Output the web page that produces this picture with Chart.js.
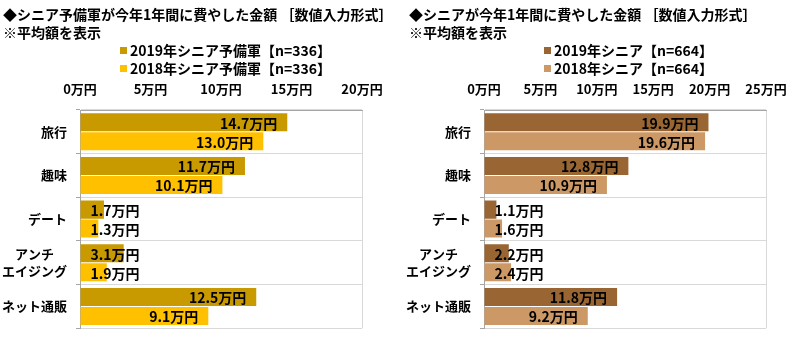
<!DOCTYPE html>
<html>
<head>
<meta charset="utf-8">
<script src="https://cdn.jsdelivr.net/npm/chart.js@4.4.1/dist/chart.umd.min.js"></script>
<style>
  body { margin: 0; background: #fff; font-family: "Noto Sans CJK JP", sans-serif; }
  #wrap { position: relative; width: 800px; height: 346px; overflow: hidden; }
  .box { position: absolute; top: 0; width: 400px; height: 346px; }
  .title { position: absolute; font-weight: bold; font-size: 14px; line-height: 18px; white-space: nowrap; color: #000; z-index: 2; }
  .leg { position: absolute; font-weight: bold; font-size: 14px; line-height: 18px; white-space: nowrap; z-index: 2; }
  .leg span.sw { display: inline-block; width: 7px; height: 7px; margin-right: 3px; vertical-align: 2px; }
</style>
</head>
<body>
<div id="wrap">
  <div class="box" style="left:0"><canvas id="chartA"></canvas></div>
  <div class="box" style="left:400px"><canvas id="chartB"></canvas></div>
</div>
<script>
// categories (アンチ has a trailing full-width space so the two lines look centred)
var categories = ['旅行', '趣味', 'デート', ['アンチ　', 'エイジング'], 'ネット通販'];

// left chart: シニア予備軍 (万円)
var yobi2019 = [14.7, 11.7, 1.7, 3.1, 12.5];
var yobi2018 = [13.0, 10.1, 1.3, 1.9, 9.1];
var yobiTicks = [0, 5, 10, 15, 20];

// right chart: シニア (万円)
var senior2019 = [19.9, 12.8, 1.1, 2.2, 11.8];
var senior2018 = [19.6, 10.9, 1.6, 2.4, 9.2];
var seniorTicks = [0, 5, 10, 15, 20, 25];

var FONT = '"Noto Sans CJK JP", sans-serif';
var wrap = document.getElementById('wrap');

function addText(cls, x, y, html) {
    var d = document.createElement('div');
    d.className = cls;
    d.style.left = x + 'px';
    d.style.top = y + 'px';
    d.innerHTML = html;
    wrap.appendChild(d);
}

// value labels: inside end, but never pushed left of the axis
var valueLabels = {
    id: 'valueLabels',
    afterDatasetsDraw: function (chart) {
        var ctx = chart.ctx;
        ctx.save();
        ctx.font = 'bold 14px ' + FONT;
        ctx.fillStyle = '#000';
        ctx.textAlign = 'right';
        ctx.textBaseline = 'middle';
        chart.data.datasets.forEach(function (ds, i) {
            var meta = chart.getDatasetMeta(i);
            meta.data.forEach(function (bar, j) {
                var txt = ds.data[j].toFixed(1) + '万円';
                var w = ctx.measureText(txt).width;
                var xr = Math.max(bar.x - 10, bar.base + 10 + w);
                ctx.fillText(txt, xr, bar.y + 1);
            });
        });
        ctx.restore();
    }
};

function makeChart(id, labels, d2019, d2018, ticks, colors, yWidth) {
    var max = ticks[ticks.length - 1];
    var ctx = document.getElementById(id).getContext('2d');
    return new Chart(ctx, {
        type: 'bar',
        data: {
            labels: categories,
            datasets: [{
                label: labels[0],
                data: d2019,
                backgroundColor: colors[0],
                categoryPercentage: 0.87,
                barPercentage: 0.95
            }, {
                label: labels[1],
                data: d2018,
                backgroundColor: colors[1],
                categoryPercentage: 0.87,
                barPercentage: 0.95
            }]
        },
        options: {
            indexAxis: 'y',
            responsive: false,
            animation: false,
            layout: { padding: { top: 80, left: 0, right: 400 - yWidth - 282, bottom: 11 } },
            plugins: { legend: { display: false }, tooltip: { enabled: false } },
            scales: {
                x: {
                    position: 'top',
                    min: 0,
                    max: max,
                    afterBuildTicks: function (scale) {
                        scale.ticks = ticks.map(function (v) { return { value: v }; });
                    },
                    afterFit: function (scale) { scale.height = 30; },
                    border: { display: true, color: '#a6a6a6', width: 1 },
                    grid: {
                        drawTicks: false,
                        color: function (c) {
                            return c.tick && c.tick.value === max ? '#d9d9d9' : 'rgba(0,0,0,0)';
                        }
                    },
                    ticks: {
                        padding: 13,
                        color: '#000',
                        font: { family: FONT, size: 13, weight: 'bold' },
                        callback: function (v) { return v + '万円'; }
                    }
                },
                y: {
                    afterFit: function (scale) { scale.width = yWidth; },
                    border: { display: true, color: '#a6a6a6', width: 1 },
                    grid: { offset: true, color: '#d9d9d9', tickColor: '#a6a6a6', tickLength: 4 },
                    ticks: {
                        padding: 9,
                        color: '#000',
                        font: { family: FONT, size: 13, weight: 'bold', lineHeight: 1.35 }
                    }
                }
            }
        },
        plugins: [valueLabels]
    });
}

var cA = document.getElementById('chartA'); cA.width = 400; cA.height = 346;
var cB = document.getElementById('chartB'); cB.width = 400; cB.height = 346;

var labelsA = ['2019年シニア予備軍【n=336】', '2018年シニア予備軍【n=336】'];
var colorsA = ['#C99A00', '#FFC000'];
var labelsB = ['2019年シニア【n=664】', '2018年シニア【n=664】'];
var colorsB = ['#996633', '#CC9966'];

makeChart('chartA', labelsA, yobi2019, yobi2018, yobiTicks, colorsA, 80);
makeChart('chartB', labelsB, senior2019, senior2018, seniorTicks, colorsB, 84);

addText('title', 3, 5, '◆シニア予備軍が今年1年間に費やした金額 ［数値入力形式］<br>※平均額を表示');
addText('title', 409, 5, '◆シニアが今年1年間に費やした金額 ［数値入力形式］<br>※平均額を表示');
[0, 1].forEach(function (i) {
    addText('leg', 120, 41 + i * 18, '<span class="sw" style="background:' + colorsA[i] + '"></span>' + labelsA[i]);
    addText('leg', 544, 41 + i * 18, '<span class="sw" style="background:' + colorsB[i] + '"></span>' + labelsB[i]);
});
</script>
</body>
</html>
